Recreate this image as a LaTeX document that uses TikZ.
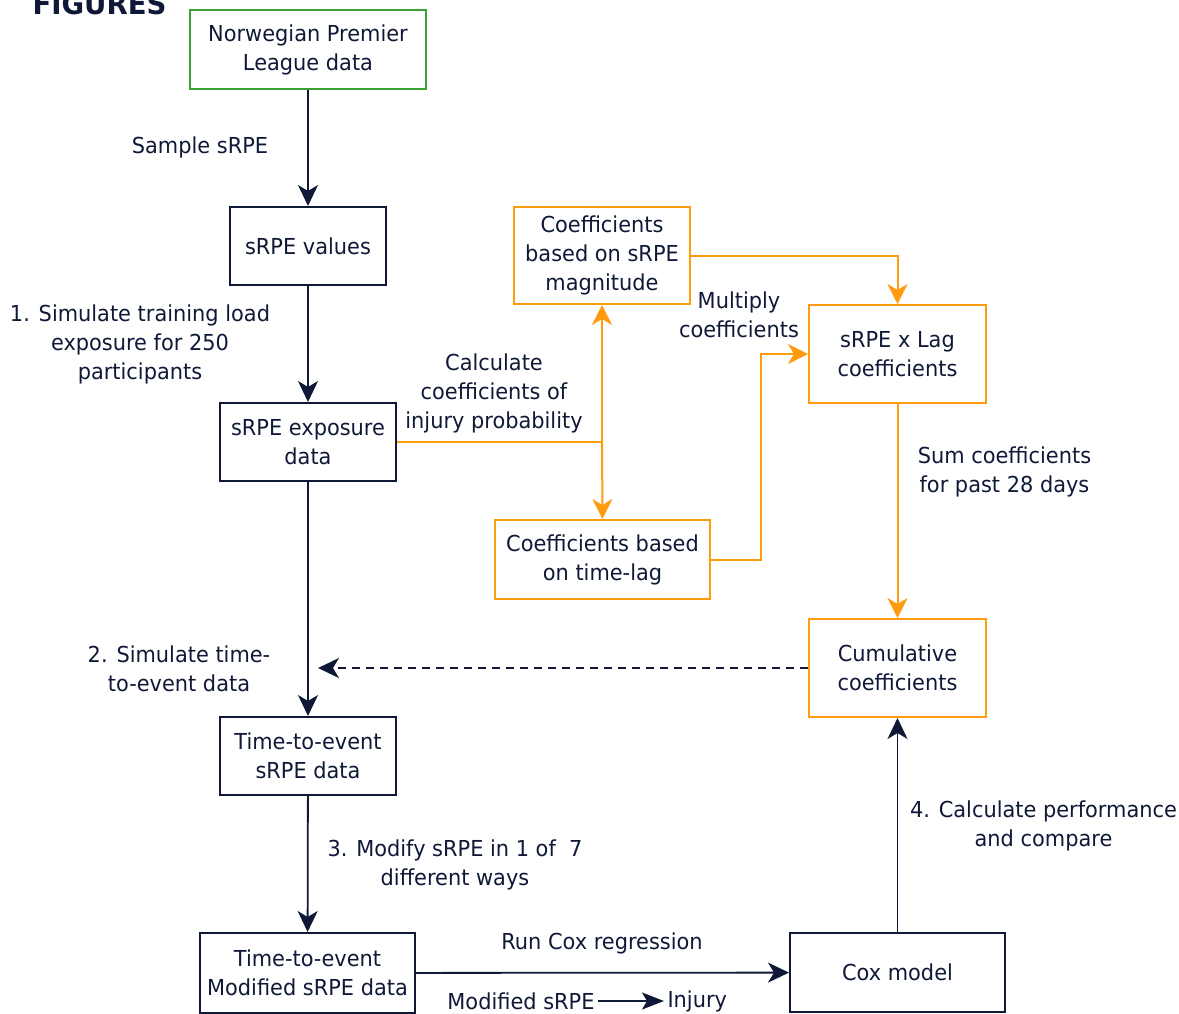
\documentclass[tikz,border=0pt]{standalone}
\usepackage{fontspec}
\setmainfont[FakeStretch=0.95]{DejaVu Sans}
\usetikzlibrary{arrows.meta}
\definecolor{navy}{RGB}{15,25,55}
\definecolor{flowgreen}{RGB}{60,160,50}
\definecolor{floworange}{RGB}{255,155,15}

\begin{document}
\begin{tikzpicture}[x=1pt, y=-1pt,
    every node/.style={text=navy, font=\fontsize{22}{29}\selectfont, align=center},
    box/.style={draw=navy, line width=2pt, inner sep=0pt},
    obox/.style={draw=floworange, line width=2pt, inner sep=0pt},
    arr/.style={draw=navy, line width=1.8pt, -{Stealth[length=21pt, width=20pt, inset=6pt]}},
    oline/.style={draw=floworange, line width=2pt},
    oarr/.style={oline, -{Stealth[length=20pt, width=20pt, inset=6pt]}}]

    % Frame
    \useasboundingbox (0,0) rectangle (1179,1013);
    \clip (0,0) rectangle (1179,1013);
    \node[anchor=base, font=\fontsize{29}{32}\selectfont\bfseries] (fig) at (99.5,14) {FIGURES};

    % Main chain
    \node[box, draw=flowgreen, minimum width=236pt, minimum height=79pt] (npl) at (308,49.5) {Norwegian Premier\\League data};
    \node[box, minimum width=156pt, minimum height=78pt] (vals) at (308,246) {sRPE values};
    \node[box, minimum width=176pt, minimum height=78pt] (expo) at (308,442) {sRPE exposure\\data};
    \node[box, minimum width=176pt, minimum height=78pt] (tte) at (308,756) {Time-to-event\\sRPE data};
    \node[box, minimum width=215pt, minimum height=80pt] (mod) at (307.5,973) {Time-to-event\\Modified sRPE data};
    \node[box, minimum width=215pt, minimum height=79pt] (cox) at (897.5,972.5) {Cox model};

    % Coefficient boxes
    \node[obox, minimum width=176pt, minimum height=97pt] (mag) at (602,255.5) {Coefficients\\based on sRPE\\magnitude};
    \node[obox, minimum width=215pt, minimum height=79pt] (lagc) at (602.5,559.5) {Coefficients based\\on time-lag};
    \node[obox, minimum width=177pt, minimum height=98pt] (lag) at (897.5,354) {sRPE x Lag\\coefficients};
    \node[obox, minimum width=177pt, minimum height=98pt] (cum) at (897.5,668) {Cumulative\\coefficients};

    % Labels
    \node (l1) at (200,147) {Sample sRPE};
    \node (l2) at (140,344) {1. Simulate training load\\exposure for 250\\participants};
    \node (l3) at (494,393) {Calculate\\coefficients of\\injury probability};
    \node (l4) at (739,315) {Multiply\\coefficients};
    \node (l5) at (1004.5,471.5) {Sum coefficients\\for past 28 days};
    \node (l6) at (179,668.5) {2. Simulate time-\\to-event data};
    \node (l7) at (455,864.5) {3. Modify sRPE in 1 of~\ 7\\different ways};
    \node (l8) at (1043.5,825.5) {4. Calculate performance\\and compare};
    \node (l9) at (602,943) {Run Cox regression};
    \node[anchor=east] (msrpe) at (598,1001) {Modified sRPE};
    \node[anchor=west] (inj) at (664,1001) {Injury};

    % Main arrows
    \draw[arr] (npl) -- (vals);
    \draw[arr] (vals) -- (expo);
    \draw[arr] (expo) -- (tte);
    \draw[arr] (tte) -- (mod);
    \draw[arr] (mod) -- (cox);
    \draw[arr] (cox) -- (cum);
    \draw[draw=navy, line width=1.8pt, -{Stealth[length=22pt, width=17pt, inset=5pt]}] (msrpe) -- (inj);
    \coordinate (dashend) at (318,668);
    \draw[arr, dash pattern=on 8pt off 6pt] (cum.west) -- (dashend);

    % Coefficient arrows
    \coordinate (split) at (expo.east -| mag.south);
    \draw[oline] (expo.east) -- (split);
    \draw[oarr] (split) -- (mag.south);
    \draw[oarr] (split) -- (lagc.north);
    \draw[oarr] (mag.east) -| (lag.north);
    \draw[oarr] (lagc.east) -- ++(50,0) |- (lag.west);
    \draw[oarr] (lag) -- (cum);

\end{tikzpicture}
\end{document}
